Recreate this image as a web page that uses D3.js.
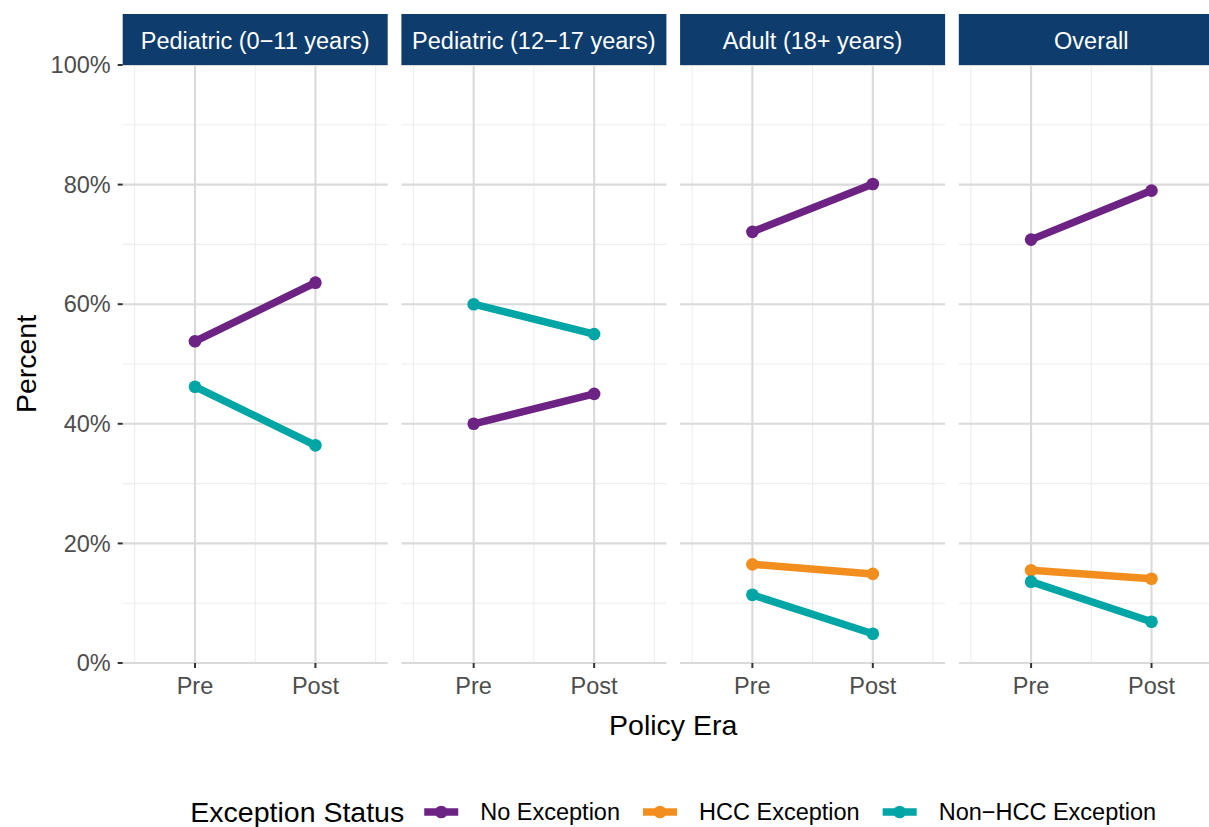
<!DOCTYPE html>
<html><head><meta charset="utf-8">
<script src="https://cdn.jsdelivr.net/npm/d3@7"></script>
<style>html,body{margin:0;padding:0;background:#fff;} svg{display:block;font-family:"Liberation Sans",Arial,Helvetica,sans-serif;}</style>
</head><body>
<svg id="chart" width="1209" height="827"></svg>
<script>
const panels = ["Pediatric (0\u221211 years)", "Pediatric (12\u221217 years)", "Adult (18+ years)", "Overall"];
const eras = ["Pre", "Post"];
const seriesNames = ["No Exception", "HCC Exception", "Non\u2212HCC Exception"];
const seriesColors = ["#6c2383", "#f28e1e", "#00a5a5"];
const yTicks = [0, 20, 40, 60, 80, 100];
const yMinor = [10, 30, 50, 70, 90];
// values per panel: [Pre, Post], null = not present
const noException  = [[53.8, 63.6], [40.0, 45.0], [72.1, 80.1], [70.8, 79.0]];
const hccException = [null, null, [16.5, 14.9], [15.5, 14.1]];
const nonHccException = [[46.2, 36.4], [60.0, 55.0], [11.4, 4.9], [13.6, 6.9]];
const seriesData = [noException, hccException, nonHccException];

const svg = d3.select("#chart");
const plotLeft = 122.7, panelW = 265, gap = 13.7;
const panelTop = 65, panelBottom = 663;
const baseFont = 23.5, titleFont = 28.5;
const lw = 7.5, pr = 6.3;
const y = d3.scaleLinear().domain([0, 100]).range([panelBottom, panelTop]);
const x = d3.scalePoint().domain(eras).range([0, panelW]).padding(0.6);
const step = x.step();

panels.forEach((name, i) => {
  const g = svg.append("g").attr("transform", `translate(${plotLeft + i * (panelW + gap)},0)`);
  // minor grid
  g.selectAll(".hm").data(yMinor).enter().append("line")
    .attr("x1", 0).attr("x2", panelW).attr("y1", d => y(d)).attr("y2", d => y(d))
    .attr("stroke", "#ededed").attr("stroke-width", 1.1);
  const vMinor = [x("Pre") - step / 2, (x("Pre") + x("Post")) / 2, x("Post") + step / 2];
  g.selectAll(".vm").data(vMinor).enter().append("line")
    .attr("x1", d => d).attr("x2", d => d).attr("y1", panelTop).attr("y2", panelBottom)
    .attr("stroke", "#ededed").attr("stroke-width", 1.1);
  // major grid
  g.selectAll(".hM").data(yTicks).enter().append("line")
    .attr("x1", 0).attr("x2", panelW).attr("y1", d => y(d)).attr("y2", d => y(d))
    .attr("stroke", "#dadada").attr("stroke-width", 2.1);
  g.selectAll(".vM").data(eras).enter().append("line")
    .attr("x1", d => x(d)).attr("x2", d => x(d)).attr("y1", panelTop).attr("y2", panelBottom)
    .attr("stroke", "#dadada").attr("stroke-width", 2.1);
  // strip
  g.append("rect").attr("x", 0).attr("y", 14).attr("width", panelW).attr("height", panelTop - 14)
    .attr("fill", "#0d3c6d");
  g.append("text").attr("x", panelW / 2).attr("y", 41).attr("dy", "0.35em")
    .attr("text-anchor", "middle").attr("fill", "#ffffff").attr("font-size", baseFont).text(name);
  // x axis ticks and labels
  g.selectAll(".xt").data(eras).enter().append("line")
    .attr("x1", d => x(d)).attr("x2", d => x(d)).attr("y1", panelBottom).attr("y2", panelBottom + 5)
    .attr("stroke", "#333").attr("stroke-width", 2);
  g.selectAll(".xl").data(eras).enter().append("text")
    .attr("x", d => x(d)).attr("y", 686).attr("dy", "0.35em").attr("text-anchor", "middle")
    .attr("fill", "#4d4d4d").attr("font-size", baseFont).text(d => d);
  // series
  const line = d3.line().x(d => x(d.era)).y(d => y(d.v));
  seriesData.forEach((s, k) => {
    const vals = s[i];
    if (!vals) return;
    const pts = eras.map((e, j) => ({era: e, v: vals[j]}));
    g.append("path").datum(pts).attr("d", line).attr("fill", "none")
      .attr("stroke", seriesColors[k]).attr("stroke-width", lw).attr("stroke-linecap", "butt");
    g.selectAll(null).data(pts).enter().append("circle")
      .attr("cx", d => x(d.era)).attr("cy", d => y(d.v)).attr("r", pr)
      .attr("fill", seriesColors[k]);
  });
});

// y axis ticks + labels
svg.selectAll(".yt").data(yTicks).enter().append("line")
  .attr("x1", plotLeft - 5).attr("x2", plotLeft).attr("y1", d => y(d)).attr("y2", d => y(d))
  .attr("stroke", "#333").attr("stroke-width", 2);
svg.selectAll(".yl").data(yTicks).enter().append("text")
  .attr("x", plotLeft - 12).attr("y", d => y(d)).attr("dy", "0.35em").attr("text-anchor", "end")
  .attr("fill", "#4d4d4d").attr("font-size", baseFont).text(d => d + "%");

const centerX = plotLeft + (4 * panelW + 3 * gap) / 2;
svg.append("text").attr("x", centerX).attr("y", 725).attr("dy", "0.35em").attr("text-anchor", "middle")
  .attr("fill", "#000").attr("font-size", titleFont).text("Policy Era");
svg.append("text").attr("transform", `translate(26,${(panelTop + panelBottom) / 2}) rotate(-90)`)
  .attr("dy", "0.35em").attr("text-anchor", "middle").attr("fill", "#000").attr("font-size", titleFont).text("Percent");

// legend
const leg = svg.append("g");
const legY = 812;
const title = leg.append("text").attr("x", 0).attr("y", legY).attr("dy", "0.35em")
  .attr("font-size", titleFont).attr("fill", "#000").text("Exception Status");
let cx = title.node().getComputedTextLength() + 20;
seriesNames.forEach((n, k) => {
  leg.append("line").attr("x1", cx).attr("x2", cx + 34).attr("y1", legY).attr("y2", legY)
    .attr("stroke", seriesColors[k]).attr("stroke-width", lw);
  leg.append("circle").attr("cx", cx + 17).attr("cy", legY).attr("r", pr).attr("fill", seriesColors[k]);
  const t = leg.append("text").attr("x", cx + 56).attr("y", legY).attr("dy", "0.35em")
    .attr("font-size", baseFont).attr("fill", "#000").text(n);
  cx += 56 + t.node().getComputedTextLength() + 23;
});
const legW = cx - 23;
leg.attr("transform", `translate(${centerX - legW / 2},0)`);
</script>
</body></html>
